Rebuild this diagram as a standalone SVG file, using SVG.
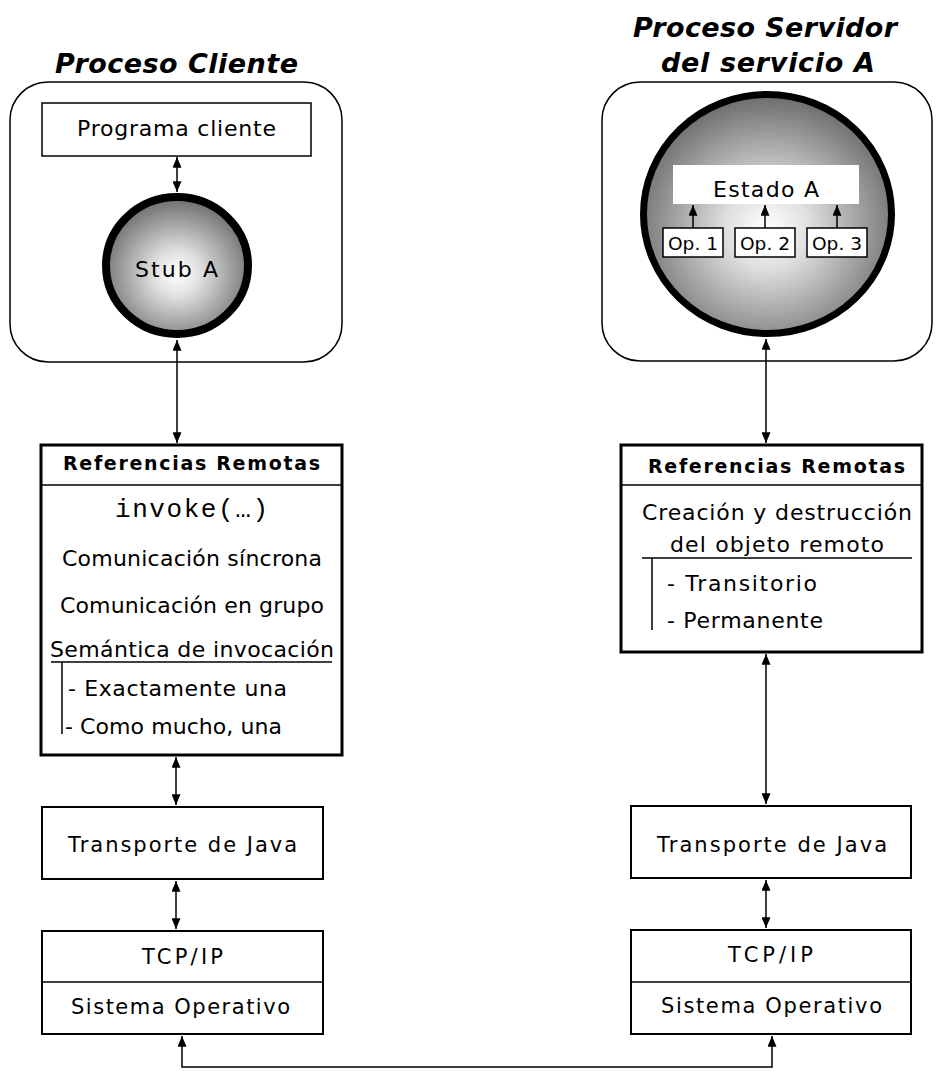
<svg xmlns="http://www.w3.org/2000/svg" width="944" height="1074" viewBox="0 0 944 1074">
<style>
text{font-family:"DejaVu Sans","Liberation Sans",sans-serif;fill:#000}
.t{font-size:22px}
.s{font-size:21px}
.title{font-size:27px;font-weight:bold;font-style:italic}
.hdr{font-size:19px;font-weight:bold}
.mono{font-family:"Liberation Mono","DejaVu Sans Mono",monospace;font-size:26px}
.op{font-size:18px}
.c{text-anchor:middle}
.proc{fill:#fff;stroke:#000;stroke-width:1.5}
.box{fill:#fff;stroke:#000;stroke-width:2}
.ref{fill:#fff;stroke:#000;stroke-width:3}
.ln{fill:none;stroke:#000;stroke-width:1.5}
.conn{fill:none;stroke:#000;stroke-width:1.5;marker-start:url(#ah);marker-end:url(#ah)}
.up{fill:none;stroke:#000;stroke-width:1.5;marker-end:url(#ah)}
</style>
<defs>
<marker id="ah" viewBox="0 0 12 10" refX="12" refY="5" markerWidth="12" markerHeight="9" markerUnits="userSpaceOnUse" orient="auto-start-reverse">
<path d="M0,0 L12,5 L0,10 z" fill="#000"/>
</marker>
<radialGradient id="sph" cx="50%" cy="56%" r="55%">
<stop offset="0" stop-color="#ffffff"/>
<stop offset="0.3" stop-color="#e0e0e0"/>
<stop offset="1" stop-color="#6e6e6e"/>
</radialGradient>
</defs>
<rect width="944" height="1074" fill="#fff"/>

<g id="proceso-cliente">
<text class="title" x="55" y="73" textLength="243" lengthAdjust="spacing">Proceso Cliente</text>
<rect class="proc" x="10" y="82" width="332" height="280" rx="38" ry="38"/>
</g>
<g id="proceso-servidor">
<text class="title" x="633" y="37" textLength="264" lengthAdjust="spacing">Proceso Servidor</text>
<text class="title" x="661" y="72" textLength="214" lengthAdjust="spacing">del servicio A</text>
<rect class="proc" x="602" y="82" width="330" height="279" rx="38" ry="38"/>
</g>

<g id="programa-cliente">
<rect x="42" y="103" width="269" height="53" fill="#fff" stroke="#000" stroke-width="1.5"/>
<text class="t" x="77" y="136" textLength="199" lengthAdjust="spacing">Programa cliente</text>
</g>

<g id="stub-a">
<ellipse cx="177" cy="265.5" rx="71" ry="68.5" fill="url(#sph)" stroke="#000" stroke-width="8"/>
<text class="t" x="135" y="277" textLength="83" lengthAdjust="spacing">Stub A</text>
</g>

<g id="servidor-a">
<ellipse cx="767.5" cy="214" rx="124" ry="119.5" fill="url(#sph)" stroke="#000" stroke-width="7"/>
</g>
<g id="estado-a">
<rect x="673" y="165" width="186" height="39" fill="#fff"/>
<text class="t" x="713" y="197" textLength="106" lengthAdjust="spacing">Estado A</text>
</g>
<g id="op1">
<rect x="663" y="228" width="60" height="29" fill="#fff" stroke="#000" stroke-width="1.5"/>
<text class="op" x="668" y="250" textLength="50" lengthAdjust="spacingAndGlyphs">Op. 1</text>
</g>
<g id="op2">
<rect x="735" y="228" width="60" height="29" fill="#fff" stroke="#000" stroke-width="1.5"/>
<text class="op" x="740" y="250" textLength="50" lengthAdjust="spacingAndGlyphs">Op. 2</text>
</g>
<g id="op3">
<rect x="807" y="228" width="60" height="29" fill="#fff" stroke="#000" stroke-width="1.5"/>
<text class="op" x="812" y="250" textLength="50" lengthAdjust="spacingAndGlyphs">Op. 3</text>
</g>

<g id="ref-cliente">
<rect class="ref" x="41" y="445" width="301" height="310"/>
<line class="ln" x1="41" y1="485" x2="342" y2="485"/>
<text class="hdr" x="63" y="470" textLength="257" lengthAdjust="spacing">Referencias Remotas</text>
<text class="mono" x="115" y="517" textLength="153" lengthAdjust="spacing">invoke(…)</text>
<text class="t" x="62" y="566" textLength="260" lengthAdjust="spacing">Comunicación síncrona</text>
<text class="t" x="60" y="613" textLength="264" lengthAdjust="spacing">Comunicación en grupo</text>
<text class="t" x="50" y="657" textLength="284" lengthAdjust="spacing">Semántica de invocación</text>
<line class="ln" x1="51" y1="662" x2="332" y2="662"/>
<line class="ln" x1="62" y1="662" x2="62" y2="734"/>
<text class="t" x="68" y="696" textLength="219" lengthAdjust="spacing">- Exactamente una</text>
<text class="t" x="65" y="734" textLength="217" lengthAdjust="spacing">- Como mucho, una</text>
</g>

<g id="ref-servidor">
<rect class="ref" x="621" y="445" width="301" height="207"/>
<line class="ln" x1="621" y1="485" x2="922" y2="485"/>
<text class="hdr" x="648" y="473" textLength="257" lengthAdjust="spacing">Referencias Remotas</text>
<text class="t" x="642" y="520" textLength="270" lengthAdjust="spacing">Creación y destrucción</text>
<text class="t" x="670" y="552" textLength="214" lengthAdjust="spacing">del objeto remoto</text>
<line class="ln" x1="642" y1="558" x2="912" y2="558"/>
<line class="ln" x1="652" y1="558" x2="652" y2="630"/>
<text class="t" x="667" y="591" textLength="150" lengthAdjust="spacing">- Transitorio</text>
<text class="t" x="667" y="628" textLength="156" lengthAdjust="spacing">- Permanente</text>
</g>

<g id="transporte-cliente">
<rect class="box" x="42" y="807" width="281" height="72"/>
<text class="s" x="68" y="852" textLength="229" lengthAdjust="spacing">Transporte de Java</text>
</g>
<g id="transporte-servidor">
<rect class="box" x="631" y="806" width="280" height="72"/>
<text class="s" x="657" y="852" textLength="230" lengthAdjust="spacing">Transporte de Java</text>
</g>
<g id="tcp-cliente">
<rect class="box" x="42" y="931" width="281" height="103"/>
<line class="ln" x1="42" y1="982" x2="323" y2="982"/>
<text class="s" x="142" y="964" textLength="81" lengthAdjust="spacing">TCP/IP</text>
<text class="s" x="71" y="1014" textLength="219" lengthAdjust="spacing">Sistema Operativo</text>
</g>
<g id="tcp-servidor">
<rect class="box" x="631" y="930" width="280" height="104"/>
<line class="ln" x1="631" y1="982" x2="911" y2="982"/>
<text class="s" x="728" y="962" textLength="85" lengthAdjust="spacing">TCP/IP</text>
<text class="s" x="661" y="1013" textLength="221" lengthAdjust="spacing">Sistema Operativo</text>
</g>

<g id="connectors">
<line class="conn" x1="177" y1="157" x2="177" y2="192"/>
<line class="conn" x1="177" y1="340" x2="177" y2="443"/>
<line class="conn" x1="176" y1="757" x2="176" y2="805"/>
<line class="conn" x1="176" y1="881" x2="176" y2="929"/>
<line class="conn" x1="766" y1="339" x2="766" y2="443"/>
<line class="conn" x1="766" y1="654" x2="766" y2="804"/>
<line class="conn" x1="766" y1="880" x2="766" y2="928"/>
<polyline class="conn" points="182,1036 182,1067 772,1067 772,1036"/>
<line class="up" x1="693" y1="228" x2="693" y2="205"/>
<line class="up" x1="765" y1="228" x2="765" y2="205"/>
<line class="up" x1="837" y1="228" x2="837" y2="205"/>
</g>
</svg>
